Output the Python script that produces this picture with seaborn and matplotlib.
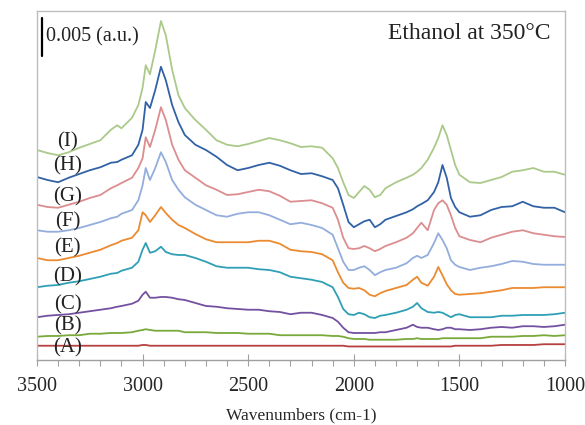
import matplotlib
matplotlib.use("Agg")
import matplotlib.pyplot as plt
from matplotlib.ticker import MultipleLocator
import seaborn as sns
import pandas as pd

# Wavenumber grid (cm-1)
wavenumbers = [3500, 3450, 3400, 3350, 3300, 3250, 3200, 3150, 3120, 3100,
               3050, 3020, 3000, 2985, 2965, 2940, 2913, 2890, 2860, 2830,
               2800, 2750, 2700, 2650, 2600, 2550, 2500, 2450, 2400, 2350,
               2300, 2250, 2200, 2150, 2100, 2075, 2050, 2025, 2000, 1975,
               1950, 1925, 1900, 1875, 1850, 1800, 1750, 1720, 1700, 1680,
               1650, 1620, 1600, 1580, 1560, 1540, 1520, 1500, 1450, 1400,
               1350, 1300, 1250, 1200, 1150, 1100, 1050, 1000]

# Stacked absorbance spectra (units of 0.001 a.u., offsets included)
spec_A = [1.9, 1.9, 1.9, 1.9, 1.9, 1.9, 1.9, 1.9, 1.9, 1.9,
          1.9, 1.9, 2.0, 2.0, 1.9, 1.9, 1.9, 1.9, 1.9, 1.9,
          1.9, 1.9, 1.9, 1.9, 1.9, 1.9, 1.9, 1.9, 1.9, 1.9,
          1.9, 1.9, 1.9, 1.9, 1.9, 1.9, 1.9, 1.8, 1.8, 1.8,
          1.8, 1.8, 1.8, 1.8, 1.8, 1.8, 1.8, 1.8, 1.8, 1.8,
          1.8, 1.8, 1.8, 1.8, 1.8, 1.8, 1.9, 1.9, 1.9, 1.9,
          1.9, 2.0, 2.0, 2.0, 2.0, 2.1, 2.1, 2.1]
spec_B = [3.1, 3.2, 3.2, 3.3, 3.3, 3.5, 3.5, 3.6, 3.6, 3.6,
          3.7, 3.9, 4.0, 4.1, 4.0, 3.9, 3.9, 3.9, 3.9, 3.9,
          3.7, 3.7, 3.7, 3.6, 3.6, 3.6, 3.5, 3.5, 3.5, 3.3,
          3.3, 3.3, 3.3, 3.3, 3.2, 3.2, 3.1, 2.9, 2.8, 2.8,
          2.8, 2.7, 2.7, 2.7, 2.7, 2.7, 2.8, 2.8, 2.9, 2.8,
          2.8, 2.8, 2.8, 2.9, 2.9, 2.9, 2.9, 2.9, 2.9, 2.9,
          3.1, 3.1, 3.1, 3.2, 3.2, 3.3, 3.2, 3.3]
spec_C = [5.7, 5.9, 6.0, 6.1, 6.3, 6.5, 6.7, 6.9, 7.1, 7.2,
          7.5, 7.9, 8.7, 9.1, 8.3, 8.3, 8.4, 8.4, 8.3, 8.1,
          8.0, 7.6, 7.2, 7.1, 6.9, 6.8, 6.7, 6.7, 6.5, 6.4,
          6.1, 6.3, 6.3, 6.0, 5.6, 5.1, 4.3, 3.7, 3.6, 3.6,
          3.6, 3.6, 3.6, 3.7, 3.7, 4.0, 4.3, 4.7, 4.4, 4.3,
          4.3, 4.1, 4.0, 4.1, 4.3, 4.3, 4.1, 4.1, 4.0, 4.1,
          4.3, 4.4, 4.3, 4.5, 4.5, 4.4, 4.5, 4.7]
spec_D = [9.7, 9.9, 10.0, 10.3, 10.5, 10.8, 11.1, 11.5, 11.6, 11.9,
          12.3, 13.1, 14.7, 15.6, 14.3, 14.5, 15.1, 14.4, 14.1, 14.0,
          14.0, 13.6, 13.1, 12.5, 12.3, 12.3, 12.3, 12.1, 12.0, 11.7,
          11.1, 10.9, 10.7, 10.4, 9.7, 8.4, 6.8, 6.1, 6.0, 6.3,
          6.1, 5.7, 5.6, 5.9, 6.0, 6.3, 6.7, 7.1, 7.6, 6.9,
          6.4, 6.3, 6.4, 6.3, 6.0, 5.7, 6.0, 6.1, 5.7, 5.7,
          5.7, 5.9, 5.9, 6.0, 6.0, 6.0, 6.1, 6.3]
spec_E = [13.6, 13.3, 13.3, 13.6, 13.9, 14.3, 14.7, 15.3, 15.6, 15.9,
          16.3, 17.3, 19.7, 19.3, 18.4, 19.3, 20.4, 19.6, 18.7, 18.0,
          17.6, 16.8, 16.1, 15.7, 15.7, 15.7, 15.7, 15.9, 15.9, 15.5,
          14.7, 14.5, 14.4, 14.1, 13.3, 11.7, 10.3, 9.6, 9.5, 9.6,
          9.3, 8.7, 8.5, 8.9, 9.2, 9.6, 10.0, 10.7, 11.1, 10.3,
          9.9, 11.1, 12.4, 11.3, 10.1, 9.3, 8.8, 8.7, 8.8, 8.9,
          9.1, 9.3, 9.6, 9.6, 9.6, 9.7, 9.7, 9.7]
spec_F = [17.3, 17.1, 17.1, 17.3, 17.6, 18.0, 18.4, 18.9, 19.1, 19.5,
          20.0, 21.3, 23.3, 25.6, 24.0, 25.6, 27.7, 26.4, 24.0, 22.7,
          21.7, 20.7, 20.0, 19.3, 19.1, 19.5, 19.7, 19.7, 19.3, 18.7,
          18.1, 18.3, 18.0, 17.6, 16.7, 14.9, 13.1, 12.0, 12.0, 12.3,
          12.5, 12.0, 11.3, 11.7, 12.0, 12.3, 12.9, 13.6, 13.9, 13.6,
          14.0, 15.6, 16.9, 16.0, 14.9, 13.3, 12.7, 12.4, 12.0, 12.3,
          12.5, 12.8, 13.2, 13.1, 12.8, 12.7, 12.7, 12.7]
spec_G = [20.7, 20.4, 20.3, 20.7, 21.1, 21.6, 22.0, 22.9, 23.3, 23.6,
          24.3, 25.6, 26.9, 29.7, 28.4, 30.7, 33.7, 32.0, 28.7, 26.7,
          25.3, 24.3, 23.3, 22.7, 22.0, 22.1, 22.4, 22.7, 22.5, 21.9,
          21.1, 21.2, 21.3, 20.9, 20.3, 18.7, 16.3, 14.9, 14.8, 14.9,
          15.2, 14.9, 14.5, 14.8, 15.2, 15.7, 16.3, 16.9, 17.6, 18.3,
          17.3, 20.0, 20.9, 21.3, 20.7, 19.3, 17.6, 16.5, 16.0, 15.7,
          16.3, 16.7, 17.1, 17.3, 16.9, 16.7, 16.5, 16.4]
spec_H = [24.4, 24.0, 23.7, 24.3, 24.8, 25.3, 25.7, 26.3, 26.4, 26.7,
          27.3, 28.7, 30.7, 34.4, 33.6, 36.0, 39.1, 37.3, 34.0, 31.7,
          30.0, 28.7, 28.0, 27.1, 26.0, 25.3, 25.6, 26.0, 26.3, 25.9,
          25.3, 24.8, 24.9, 24.5, 24.0, 22.9, 20.7, 18.4, 17.7, 18.1,
          18.5, 18.7, 17.7, 18.1, 18.7, 19.2, 19.7, 20.1, 20.5, 20.8,
          21.3, 22.4, 23.7, 26.0, 24.3, 21.6, 20.4, 19.7, 19.1, 19.3,
          20.0, 20.4, 20.5, 21.1, 20.5, 20.3, 20.3, 19.7]
spec_I = [28.0, 27.6, 27.3, 27.7, 28.3, 28.8, 29.3, 30.7, 31.3, 30.9,
          32.3, 34.0, 36.3, 39.3, 38.1, 41.3, 45.2, 43.3, 38.7, 35.3,
          33.6, 32.0, 30.7, 29.3, 28.7, 28.5, 28.8, 29.2, 29.6, 29.3,
          28.9, 28.4, 28.5, 28.3, 26.9, 25.6, 23.7, 22.0, 21.6, 22.4,
          23.2, 22.7, 21.7, 22.0, 22.9, 23.7, 24.3, 24.7, 25.1, 25.6,
          26.7, 28.3, 29.6, 31.3, 30.0, 28.0, 26.0, 24.7, 23.7, 23.6,
          24.0, 24.4, 25.1, 25.3, 25.6, 25.1, 25.1, 24.7]

series_names = ["(A)", "(B)", "(C)", "(D)", "(E)", "(F)", "(G)", "(H)", "(I)"]
series_values = [spec_A, spec_B, spec_C, spec_D, spec_E, spec_F, spec_G, spec_H, spec_I]
series_colors = ["#B5403F", "#79A93A", "#7451A0", "#2F9FB6", "#EC8A30",
                 "#93ADDC", "#DB8D8F", "#3262A6", "#ABC98A"]

# Label positions (y in same units), placed at left side
label_y = [1.6, 4.5, 7.3, 11.1, 14.9, 18.4, 21.7, 25.9, 29.1]
label_x = 3355

rows = []
for name, vals in zip(series_names, series_values):
    for w, v in zip(wavenumbers, vals):
        rows.append({"wavenumber": w, "absorbance": v, "sample": name})
df = pd.DataFrame(rows)

sns.set_style("white")
plt.rcParams["font.family"] = ["Liberation Serif", "DejaVu Serif"]

fig = plt.figure(figsize=(5.85, 4.25), dpi=100)
ax = fig.add_axes([0.0632, 0.153, 0.9026, 0.821])

sns.lineplot(data=df, x="wavenumber", y="absorbance", hue="sample",
             hue_order=series_names, palette=series_colors, sort=False,
             linewidth=1.3, legend=False, ax=ax)

ax.set_xlim(3500, 1000)
ax.set_ylim(0, 46.53)
ax.set_yticks([])
ax.set_ylabel("")
ax.set_xlabel("Wavenumbers (cm-1)", fontsize=12.5, labelpad=8.5)
ax.xaxis.set_major_locator(MultipleLocator(500))
ax.xaxis.set_minor_locator(MultipleLocator(100))
ax.tick_params(axis="x", which="major", direction="inout", length=8,
               width=0.8, color="#A0A0A0", labelsize=14.5, pad=8)
ax.tick_params(axis="x", which="minor", direction="out", length=4,
               width=0.8, color="#A0A0A0")
ax.tick_params(axis="x", which="both", bottom=True)
for s in ax.spines.values():
    s.set_color("#BDBDBD")
    s.set_linewidth(1.0)
ax.spines["bottom"].set_color("#A0A0A0")

for name, ly in zip(series_names, label_y):
    ax.text(label_x, ly, name, fontsize=15, ha="center", va="center", color="#222222")

# Scale bar 0.005 a.u.
ax.plot([3476, 3476], [40.6, 45.6], color="black", linewidth=1.6)
ax.text(3457, 43.1, "0.005 (a.u.)", fontsize=14.5, ha="left", va="center", color="#222222")

ax.text(1070, 43.6, "Ethanol at 350°C", fontsize=17, ha="right", va="center", color="#222222")

fig.savefig("out.png", dpi=100)
